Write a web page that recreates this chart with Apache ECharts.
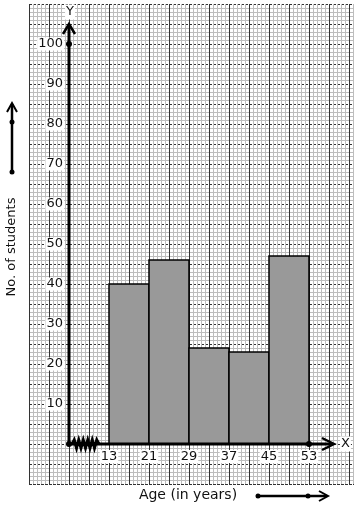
<!DOCTYPE html>
<html>
<head>
<meta charset="utf-8">
<script src="https://cdn.jsdelivr.net/npm/echarts@6/dist/echarts.min.js"></script>
<style>html,body{margin:0;padding:0;background:#fff}#c{width:354px;height:510px}</style>
</head>
<body>
<div id="c"></div>
<script>
// Data
const binEdges = [13, 21, 29, 37, 45, 53];
const studentCounts = [40, 46, 24, 23, 47];
const xTickLabels = [13, 21, 29, 37, 45, 53];
const yTickLabels = [10, 20, 30, 40, 50, 60, 70, 80, 90, 100];
const xTitle = 'Age (in years)';
const yTitle = 'No. of students';

const FONT = 'DejaVu Sans';
const bars = studentCounts.map((v, i) => [binEdges[i], binEdges[i + 1], v]);

const chart = echarts.init(document.getElementById('c'), null, {renderer: 'canvas'});

const option = {
  animation: false,
  backgroundColor: '#fff',
  grid: [
    {left: 29, top: 4, right: 0, bottom: 26},
    {left: 69, top: 4, right: 0, bottom: 66}
  ],
  xAxis: [
    {gridIndex: 0, type: 'value', min: 0, max: 325, interval: 20,
     axisLine: {show: false}, axisTick: {show: false}, axisLabel: {show: false},
     splitLine: {show: true, lineStyle: {color: '#333', width: 1}},
     minorTick: {show: false, splitNumber: 5},
     minorSplitLine: {show: true, lineStyle: {color: '#bdbdbd', width: 1}}},
    {gridIndex: 1, type: 'value', min: 5, max: 62,
     axisLine: {show: false}, axisTick: {show: false}, splitLine: {show: false},
     axisLabel: {show: true, customValues: xTickLabels, margin: 6, fontFamily: FONT, fontSize: 13,
       color: '#111', backgroundColor: '#fff', padding: [0, 1]}}
  ],
  yAxis: [
    {gridIndex: 0, type: 'value', min: 0, max: 480, interval: 20,
     axisLine: {show: false}, axisTick: {show: false}, axisLabel: {show: false},
     splitLine: {show: true, lineStyle: {color: '#333', width: 1, type: [3, 1]}},
     minorTick: {show: false, splitNumber: 5},
     minorSplitLine: {show: true, lineStyle: {color: '#bdbdbd', width: 1}}},
    {gridIndex: 1, type: 'value', min: 0, max: 110,
     axisLine: {show: false}, axisTick: {show: false}, splitLine: {show: false},
     axisLabel: {show: true, customValues: yTickLabels, margin: 5, fontFamily: FONT, fontSize: 13,
       color: '#111', backgroundColor: '#fff', padding: [0, 1]}}
  ],
  series: [{
    type: 'custom',
    xAxisIndex: 1, yAxisIndex: 1,
    data: bars,
    renderItem: function (params, api) {
      const p0 = api.coord([api.value(0), 0]);
      const p1 = api.coord([api.value(1), api.value(2)]);
      return {
        type: 'rect',
        shape: {x: p0[0], y: p1[1], width: p1[0] - p0[0], height: p0[1] - p1[1]},
        style: {fill: '#999999', stroke: '#000', lineWidth: 1.5}
      };
    }
  }]
};
chart.setOption(option);

function px(x, y) { return chart.convertToPixel({gridIndex: 1}, [x, y]); }
const o = px(5, 0);
const yTop = px(5, 105);
const xEnd = px(58, 0);
const d100 = px(5, 100);
const d53 = px(53, 0);
const zs = px(5.6, 0), ze = px(11, 0);
const zig = [];
const nSeg = 12;
for (let i = 0; i <= nSeg; i++) {
  const x = zs[0] + (ze[0] - zs[0]) * i / nSeg;
  const y = o[1] + (i === 0 || i === nSeg ? 0 : (i % 2 ? -4 : 4));
  zig.push([x, y]);
}

const black = '#000';
const graphics = [
  // y axis
  {type: 'line', shape: {x1: o[0], y1: o[1], x2: yTop[0], y2: yTop[1] + 1}, style: {stroke: black, lineWidth: 3}, z: 10},
  {type: 'polyline', shape: {points: [[yTop[0] - 6, yTop[1] + 10], [yTop[0], yTop[1]], [yTop[0] + 6, yTop[1] + 10]]}, style: {stroke: black, lineWidth: 2.5, fill: null}, z: 10},
  // x axis
  {type: 'line', shape: {x1: o[0], y1: o[1], x2: xEnd[0] - 1, y2: xEnd[1]}, style: {stroke: black, lineWidth: 3}, z: 10},
  {type: 'polyline', shape: {points: [[xEnd[0] - 12, xEnd[1] - 6], [xEnd[0], xEnd[1]], [xEnd[0] - 12, xEnd[1] + 6]]}, style: {stroke: black, lineWidth: 2.5, fill: null}, z: 10},
  // dots
  {type: 'circle', shape: {cx: d100[0], cy: d100[1], r: 3}, style: {fill: black}, z: 11},
  {type: 'circle', shape: {cx: o[0], cy: o[1], r: 3}, style: {fill: black}, z: 11},
  {type: 'circle', shape: {cx: d53[0], cy: d53[1], r: 3}, style: {fill: black}, z: 11},
  // zigzag
  {type: 'polyline', shape: {points: zig}, style: {stroke: black, lineWidth: 3, fill: null, lineJoin: 'miter'}, z: 11},
  // axis letters
  {type: 'text', x: yTop[0] + 1, y: 12, style: {text: 'Y', font: '13px "DejaVu Sans"', fill: '#111', align: 'center', verticalAlign: 'middle', backgroundColor: '#fff', padding: [1, 1]}, z: 12},
  {type: 'text', x: xEnd[0] + 6, y: xEnd[1], style: {text: 'X', font: '13px "DejaVu Sans"', fill: '#111', align: 'left', verticalAlign: 'middle', backgroundColor: '#fff', padding: [1, 1]}, z: 12},
  // titles
  {type: 'text', x: 12, y: 247, rotation: Math.PI / 2, style: {text: yTitle, font: '13px "DejaVu Sans"', fill: '#111', align: 'center', verticalAlign: 'middle'}, z: 12},
  {type: 'text', x: 188, y: 495, style: {text: xTitle, font: '14px "DejaVu Sans"', fill: '#111', align: 'center', verticalAlign: 'middle'}, z: 12},
  // left direction arrow
  {type: 'line', shape: {x1: 12, y1: 172, x2: 12, y2: 104}, style: {stroke: black, lineWidth: 2.5}, z: 12},
  {type: 'polyline', shape: {points: [[7, 112], [12, 103], [17, 112]]}, style: {stroke: black, lineWidth: 2, fill: null}, z: 12},
  {type: 'circle', shape: {cx: 12, cy: 122, r: 2.5}, style: {fill: black}, z: 12},
  {type: 'circle', shape: {cx: 12, cy: 172, r: 2.5}, style: {fill: black}, z: 12},
  // bottom direction arrow
  {type: 'line', shape: {x1: 258, y1: 496, x2: 327, y2: 496}, style: {stroke: black, lineWidth: 2.5}, z: 12},
  {type: 'polyline', shape: {points: [[319, 491], [328, 496], [319, 501]]}, style: {stroke: black, lineWidth: 2, fill: null}, z: 12},
  {type: 'circle', shape: {cx: 258, cy: 496, r: 2.5}, style: {fill: black}, z: 12},
  {type: 'circle', shape: {cx: 308, cy: 496, r: 2.5}, style: {fill: black}, z: 12}
];
chart.setOption({graphic: graphics});
</script>
</body>
</html>
